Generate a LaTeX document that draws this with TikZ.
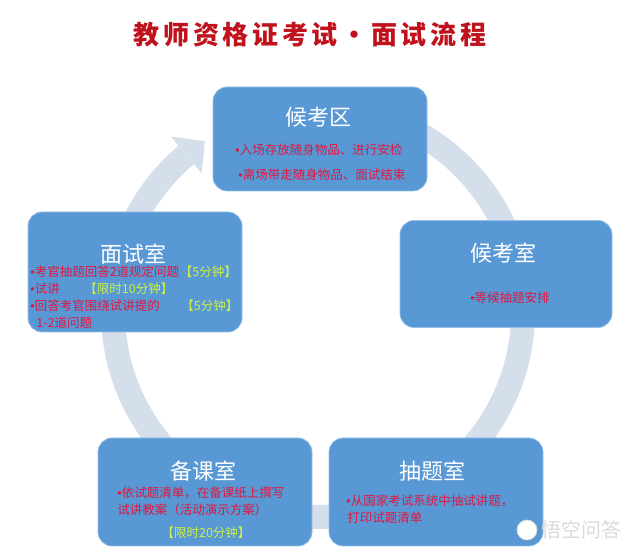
\documentclass[tikz,border=0pt]{standalone}
\usepackage{fontspec}
\setmainfont{Noto Sans CJK SC}
\newfontfamily\latinfont{Liberation Sans}
\newcommand{\bul}{{\latinfont •}}
\usetikzlibrary{positioning,calc}
\definecolor{roomblue}{RGB}{88,152,212}
\definecolor{roomedge}{RGB}{150,192,232}
\definecolor{ringgray}{RGB}{213,223,236}
\definecolor{notered}{RGB}{222,24,66}
\definecolor{timegreen}{RGB}{205,240,70}
\definecolor{titlered}{RGB}{192,18,28}
\tikzset{every picture/.style={line width=0.75pt}}

\begin{document}
\begin{tikzpicture}[x=1pt,y=1pt,
    room/.style={draw=roomedge,fill=roomblue,rounded corners=14pt,inner sep=0pt},
    roomtitle/.style={text=white,font=\fontsize{22}{22}\selectfont},
    note/.style={text=notered,font=\fontsize{12.5}{17}\selectfont,inner sep=0pt},
    timing/.style={text=timegreen,font=\fontsize{12.5}{17}\selectfont,inner sep=0pt}]
  \useasboundingbox (0,0) rectangle (640,554);
  % title
  \node[text=titlered,font=\fontsize{26}{26}\selectfont\bfseries\addfontfeature{LetterSpace=14}] (title) at (310,519) {教师资格证考试·面试流程};
  % ring with arrow head
  \coordinate (c) at (318,242);
  \draw[ringgray,line width=24pt] ($(c)+(95:205)$) arc[start angle=95,end angle=-230,radius=205];
  \coordinate (headL) at ($(c)+(130:229)$);
  \coordinate (headR) at ($(c)+(130:181)$);
  \coordinate (headtip) at ($(c)+(123.5:205)$);
  \fill[ringgray] (headL) -- (headtip) -- (headR) -- cycle;
  % rooms
  \node[room,minimum width=214pt,minimum height=104pt] (waitarea) at (320,415) {};
  \node[room,minimum width=212pt,minimum height=107pt] (waitroom) at (506,280) {};
  \node[room,minimum width=214pt,minimum height=108pt] (drawroom) at (436,62) {};
  \node[room,minimum width=214pt,minimum height=108pt] (preproom) at (205,62) {};
  \node[room,minimum width=214pt,minimum height=120pt] (interview) at (135,282) {};
  % 候考区
  \node[roomtitle] (waitarea-title) at (318,437) {候考区};
  \node[note,anchor=west] (waitarea-l1) at (235,404) {\bul 入场存放随身物品、进行安检};
  \node[note,anchor=west] (waitarea-l2) at (238,379) {\bul 离场带走随身物品、面试结束};
  % 候考室
  \node[roomtitle] (waitroom-title) at (503,301) {候考室};
  \node[note] (waitroom-l1) at (510,256) {\bul 等候抽题安排};
  % 抽题室
  \node[roomtitle] (drawroom-title) at (432,83) {抽题室};
  \node[note,anchor=west] (drawroom-l1) at (346,53) {\bul 从国家考试系统中抽试讲题，};
  \node[note,anchor=west] (drawroom-l2) at (347,36) {打印试题清单};
  % 备课室
  \node[roomtitle] (preproom-title) at (203,83) {备课室};
  \node[note,anchor=west] (preproom-l1) at (117,61) {\bul 依试题清单，在备课纸上撰写};
  \node[note,anchor=west] (preproom-l2) at (117,44) {试讲教案（活动演示方案）};
  \node[timing] (preproom-t1) at (206,21) {【限时20分钟】};
  % 面试室
  \node[roomtitle] (interview-title) at (133,300) {面试室};
  \node[note,anchor=west] (interview-l1) at (30,282) {\bul 考官抽题回答2道规定问题};
  \node[timing,anchor=west] (interview-t1) at (interview-l1.east) {【5分钟】};
  \node[note,anchor=west] (interview-l2) at (30,265) {\bul 试讲};
  \node[timing,anchor=west] (interview-t2) at (84,265) {【限时10分钟】};
  \node[note,anchor=west] (interview-l3) at (30,248) {\bul 回答考官围绕试讲提的};
  \node[timing,anchor=west] (interview-t3) at (181,248) {【5分钟】};
  \node[note,anchor=west] (interview-l4) at (36,231) {1-2道问题};
  % watermark
  \node[circle,fill=white,draw=gray!30,minimum size=20pt,inner sep=0pt] (logo) at (527,24) {};
  \node[text=gray!30,font=\fontsize{20}{20}\selectfont,anchor=west] (mark) at (logo.east) {悟空问答};
\end{tikzpicture}
\end{document}
